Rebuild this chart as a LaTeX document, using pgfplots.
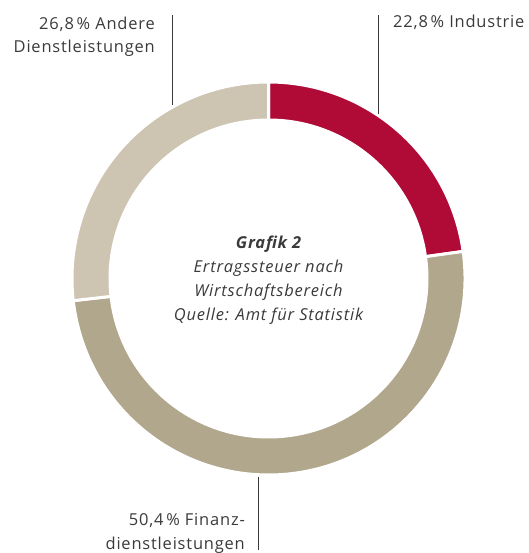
\documentclass[border=0pt]{standalone}
\usepackage{fontspec}
\setmainfont{Open Sans}[LetterSpace=5]
\usepackage{pgfplots}
\usepackage{pgfplotstable}
\pgfplotsset{compat=1.18}
\definecolor{cInd}{HTML}{B00B37}
\definecolor{cFin}{HTML}{B1A78D}
\definecolor{cAnd}{HTML}{CDC4B2}
\definecolor{txt}{HTML}{3A3A3A}
\pgfplotstableread{
sector value
Industrie 22.8
Finanz 50.4
Andere 26.8
}\shares
\begin{document}
\begin{tikzpicture}
\pgfplotstablegetelem{0}{value}\of\shares \let\vA\pgfplotsretval
\pgfplotstablegetelem{1}{value}\of\shares \let\vB\pgfplotsretval
\pgfplotstablegetelem{2}{value}\of\shares \let\vC\pgfplotsretval
\pgfmathsetmacro\aA{90}
\pgfmathsetmacro\aB{\aA-3.6*\vA}
\pgfmathsetmacro\aC{\aB-3.6*\vB}
\pgfmathsetmacro\aD{\aC-3.6*\vC}
\def\cx{268.5}\def\cy{274.5}\def\Ro{196.5}\def\Ri{158.5}
\begin{axis}[scale only axis, width=529bp, height=553bp,
  xmin=0, xmax=529, ymin=0, ymax=553, hide axis, clip=false, disabledatascaling]
\path[fill=cInd, draw=white, line width=3bp]
  (axis cs:{\cx+\Ro*cos(\aA)},{\cy+\Ro*sin(\aA)}) arc[start angle=\aA, end angle=\aB, radius=\Ro]
  -- (axis cs:{\cx+\Ri*cos(\aB)},{\cy+\Ri*sin(\aB)}) arc[start angle=\aB, end angle=\aA, radius=\Ri] -- cycle;
\path[fill=cFin, draw=white, line width=3bp]
  (axis cs:{\cx+\Ro*cos(\aB)},{\cy+\Ro*sin(\aB)}) arc[start angle=\aB, end angle=\aC, radius=\Ro]
  -- (axis cs:{\cx+\Ri*cos(\aC)},{\cy+\Ri*sin(\aC)}) arc[start angle=\aC, end angle=\aB, radius=\Ri] -- cycle;
\path[fill=cAnd, draw=white, line width=3bp]
  (axis cs:{\cx+\Ro*cos(\aC)},{\cy+\Ro*sin(\aC)}) arc[start angle=\aC, end angle=\aD, radius=\Ro]
  -- (axis cs:{\cx+\Ri*cos(\aD)},{\cy+\Ri*sin(\aD)}) arc[start angle=\aD, end angle=\aC, radius=\Ri] -- cycle;
% leader lines
\draw[txt, line width=1bp] (axis cs:378,538) -- (axis cs:378,439);
\draw[txt, line width=1bp] (axis cs:172,538) -- (axis cs:172,448);
\draw[txt, line width=1bp] (axis cs:258,76) -- (axis cs:258,3);
% labels
\node[anchor=base west, inner sep=0pt, text=txt, font=\fontsize{16.5}{24}\selectfont] at (axis cs:393,525) {22,8\,\% Industrie};
\node[anchor=base east, inner sep=0pt, align=right, text=txt, font=\fontsize{16.5}{24}\selectfont] at (axis cs:155,500) {26,8\,\% Andere\\Dienstleistungen};
\node[anchor=base east, inner sep=0pt, align=right, text=txt, font=\fontsize{16.5}{24}\selectfont] at (axis cs:245,4) {50,4\,\% Finanz-\\dienstleistungen};
\node[anchor=base, inner sep=0pt, align=center, text=txt, font=\fontsize{16.5}{24.3}\selectfont\itshape] at (axis cs:268.5,232) {\textbf{Grafik 2}\\Ertragssteuer nach\\Wirtschaftsbereich\\Quelle: Amt für Statistik};
\end{axis}
\pgfresetboundingbox
\path (current axis.south west) rectangle (current axis.north east);
\end{tikzpicture}
\end{document}
